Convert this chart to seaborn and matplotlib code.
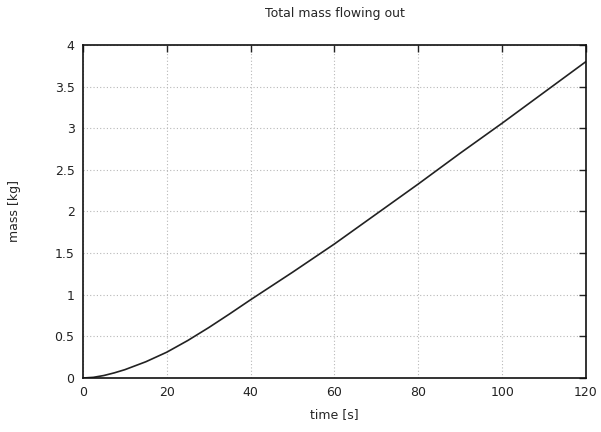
import numpy as np
import pandas as pd
import seaborn as sns
import matplotlib.pyplot as plt

# values
time_s = [0, 2.5, 5, 7.5, 10, 15, 20, 25, 30, 35, 40, 45, 50, 55, 60, 70, 80, 90, 100, 110, 120]
mass_kg = [0, 0.008, 0.03, 0.062, 0.1, 0.195, 0.31, 0.45, 0.605, 0.77, 0.94, 1.105, 1.27, 1.44, 1.61,
           1.97, 2.33, 2.70, 3.06, 3.43, 3.80]

x_ticks = [0, 20, 40, 60, 80, 100, 120]
y_ticks = [0, 0.5, 1, 1.5, 2, 2.5, 3, 3.5, 4]
y_labels = ["0", "0.5", "1", "1.5", "2", "2.5", "3", "3.5", "4"]

df = pd.DataFrame({"time": time_s, "mass": mass_kg})

sns.set_style("white")
plt.rcParams["font.family"] = ["DejaVu Sans"]

fig = plt.figure(figsize=(6.01, 4.32), dpi=100)
ax = fig.add_axes([0.138, 0.125, 0.837, 0.771])

sns.lineplot(data=df, x="time", y="mass", ax=ax, color="#222222", linewidth=1.2)

ax.set_xlim(0, 120)
ax.set_ylim(0, 4)
ax.set_xticks(x_ticks)
ax.set_yticks(y_ticks)
ax.set_yticklabels(y_labels)
ax.grid(True, color="#b8b8b8", linestyle=(0, (1, 2)), linewidth=0.8)
ax.tick_params(direction="in", length=5, width=1, top=True, right=True,
               labelsize=9, colors="#222222", pad=6)
for s in ax.spines.values():
    s.set_color("#111111")
    s.set_linewidth(1.2)

ax.set_xlabel("time [s]", fontsize=9, labelpad=6)
ax.set_ylabel("mass [kg]", fontsize=9, labelpad=24)
ax.set_title("Total mass flowing out", fontsize=9, pad=20)

fig.savefig("out.png", dpi=100)
